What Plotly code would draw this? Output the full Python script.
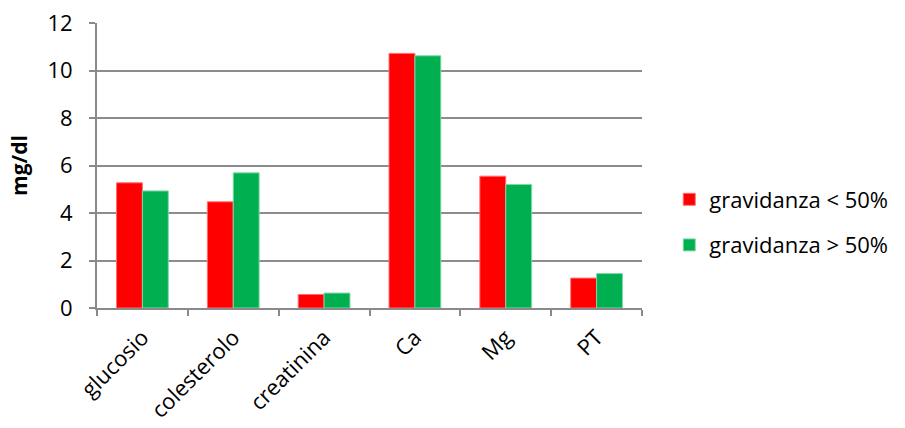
import plotly.graph_objects as go

categories = ["glucosio", "colesterolo", "creatinina", "Ca", "Mg", "PT"]
below_50 = [5.27, 4.47, 0.57, 10.72, 5.55, 1.26]
above_50 = [4.93, 5.69, 0.63, 10.62, 5.20, 1.45]
series_names = ["gravidanza < 50%", "gravidanza > 50%"]
y_ticks = [0, 2, 4, 6, 8, 10, 12]

FONT = "Open Sans, Noto Sans, sans-serif"
AXIS_GREY = "#8a8a8a"

fig = go.Figure()
fig.add_trace(go.Bar(x=categories, y=below_50, name=series_names[0],
                     marker=dict(color="#ff0000", line=dict(color="#ff6f6f", width=1)),
                     legendgroup="a"))
fig.add_trace(go.Bar(x=categories, y=above_50, name=series_names[1],
                     marker=dict(color="#00b050", line=dict(color="#7fd8a7", width=1)),
                     legendgroup="b"))

fig.update_layout(
    width=905, height=428,
    margin=dict(l=97, r=261, t=23, b=120),
    paper_bgcolor="white", plot_bgcolor="white",
    barmode="group", bargap=0.43, bargroupgap=0,
    font=dict(family=FONT, size=22, color="#000000"),
    legend=dict(x=1.05, y=0.3, xanchor="left", yanchor="middle",
                font=dict(size=22), tracegroupgap=14, itemwidth=30),
    showlegend=True,
)
fig.update_xaxes(
    type="category", showline=True, linecolor=AXIS_GREY, linewidth=2,
    ticks="outside", tickson="boundaries", ticklen=6, tickcolor=AXIS_GREY, tickwidth=2,
    tickangle=-45, tickfont=dict(size=22), showgrid=False,
    ticklabelstandoff=6, automargin=False,
)
fig.update_yaxes(
    range=[0, 12], tickvals=y_ticks, showline=True, linecolor=AXIS_GREY, linewidth=2,
    ticks="outside", ticklen=6, tickcolor=AXIS_GREY, tickwidth=2,
    showgrid=True, gridcolor="#8c8c8c", gridwidth=2, zeroline=False,
    tickfont=dict(size=22), ticklabelstandoff=12, automargin=False,
    title=dict(text="<b>mg/dl</b>", font=dict(size=21), standoff=14),
)

fig.write_html("out.html")
